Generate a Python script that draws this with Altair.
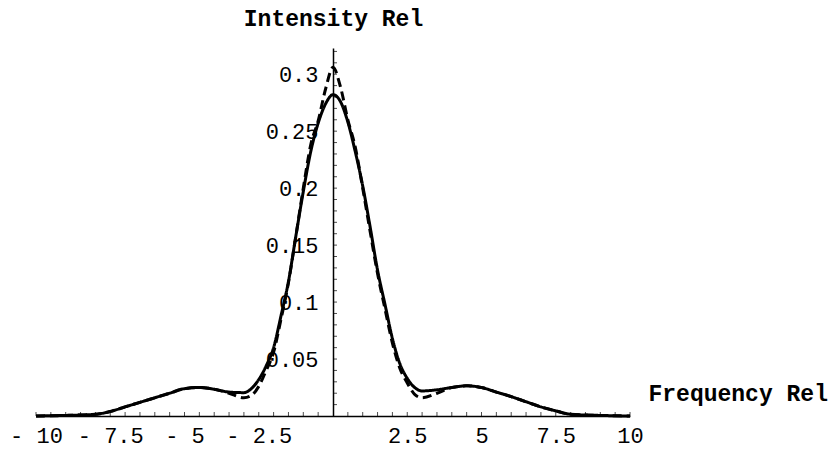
import altair as alt
import pandas as pd

# ---- data ----
freq = [-10, -9, -8, -7.5, -7, -6.5, -6, -5.5, -5, -4.5, -4, -3.5, -3, -2.75, -2.5,
        -2.25, -2, -1.75, -1.5, -1.25, -1, -0.75, -0.5, -0.25, 0, 0.25, 0.5, 0.75,
        1, 1.25, 1.5, 1.75, 2, 2.25, 2.5, 2.75, 3, 3.5, 4, 4.5, 5, 5.5, 6, 6.5, 7,
        7.5, 8, 9, 10]
solid = [0.0, 0.0005, 0.0015, 0.004, 0.008, 0.012, 0.016, 0.020, 0.024, 0.025,
         0.0235, 0.021, 0.0205, 0.024, 0.032, 0.044, 0.060, 0.088, 0.118, 0.158,
         0.197, 0.232, 0.257, 0.274, 0.282, 0.276, 0.258, 0.232, 0.202, 0.166,
         0.128, 0.098, 0.068, 0.046, 0.033, 0.025, 0.022, 0.023, 0.025, 0.0265,
         0.025, 0.021, 0.017, 0.0125, 0.008, 0.0045, 0.0015, 0.0005, 0.0]
dashed = [0.0, 0.0005, 0.0015, 0.004, 0.008, 0.012, 0.016, 0.020, 0.024, 0.025,
          0.0235, 0.020, 0.016, 0.018, 0.026, 0.040, 0.056, 0.085, 0.117, 0.158,
          0.200, 0.238, 0.259, 0.287, 0.306, 0.289, 0.260, 0.236, 0.200, 0.162,
          0.125, 0.094, 0.064, 0.042, 0.029, 0.019, 0.016, 0.020, 0.025, 0.0265,
          0.025, 0.021, 0.017, 0.0125, 0.008, 0.0045, 0.0015, 0.0005, 0.0]

x_labels = [-10, -7.5, -5, -2.5, 2.5, 5, 7.5, 10]
y_labels = [0.05, 0.1, 0.15, 0.2, 0.25, 0.3]
x_minor = [v / 2 for v in range(-20, 21) if v != 0]
y_minor = [round(v / 100, 2) for v in range(1, 33)]

FONT = "Liberation Mono"

rows = []
for f, s, d in zip(freq, solid, dashed):
    rows.append({"x": f, "y": s, "series": "solid"})
    rows.append({"x": f, "y": d, "series": "dashed"})
df = pd.DataFrame(rows)

xscale = alt.Scale(domain=[-10, 10], nice=False, zero=False)
yscale = alt.Scale(domain=[0, 0.323], nice=False, zero=False)

x_axis = alt.Axis(
    values=x_labels,
    labelExpr="datum.value < 0 ? '- ' + abs(datum.value) : '' + datum.value",
    ticks=False, tickSize=0, grid=False,
    domainColor="black", domainWidth=1.5,
    labelFont=FONT, labelFontSize=22, labelColor="black", labelPadding=9,
    labelOverlap=False, labelFlush=False,
    title="Frequency Rel", titleFont=FONT, titleFontSize=23, titleFontWeight="bold",
    titleColor="black", titleAlign="left", titleBaseline="alphabetic",
    titleX=612, titleY=-16, titleAngle=0,
)
y_axis = alt.Axis(
    values=y_labels,
    labelExpr="'' + datum.value",
    offset=-297,
    ticks=False, tickSize=0, grid=False,
    domainColor="black", domainWidth=1.5,
    labelFont=FONT, labelFontSize=22, labelColor="black", labelPadding=15,
    labelOverlap=False,
    title="Intensity Rel", titleFont=FONT, titleFontSize=23, titleFontWeight="bold",
    titleColor="black", titleAlign="center", titleBaseline="alphabetic",
    titleAngle=0, titleX=0, titleY=-23,
)

lines = alt.Chart(df).mark_line(strokeWidth=3, interpolate="monotone", color="black").encode(
    x=alt.X("x:Q", scale=xscale, axis=x_axis),
    y=alt.Y("y:Q", scale=yscale, axis=y_axis),
    strokeDash=alt.StrokeDash("series:N", scale=alt.Scale(domain=["solid", "dashed"],
                                                           range=[[1, 0], [9, 5]]), legend=None),
    detail="series:N",
)

xt = pd.DataFrame({"x": x_minor})
xticks = alt.Chart(xt).mark_tick(orient="vertical", size=4, thickness=1, yOffset=-2, color="black").encode(
    x=alt.X("x:Q", scale=xscale), y=alt.YDatum(0)
)

yt = pd.DataFrame({"y": y_minor})
yticks = alt.Chart(yt).mark_tick(orient="horizontal", size=4, thickness=1, xOffset=2, color="black").encode(
    y=alt.Y("y:Q", scale=yscale), x=alt.XDatum(0)
)

chart = alt.layer(lines, xticks, yticks).properties(
    width=594, height=368,
    background="white",
    autosize=alt.AutoSizeParams(type="none"),
    padding={"left": 28, "top": 40, "right": 200, "bottom": 36},
).configure_view(stroke="transparent", strokeWidth=0)

chart.save("out.html", embed_options={"renderer": "svg", "actions": False})
